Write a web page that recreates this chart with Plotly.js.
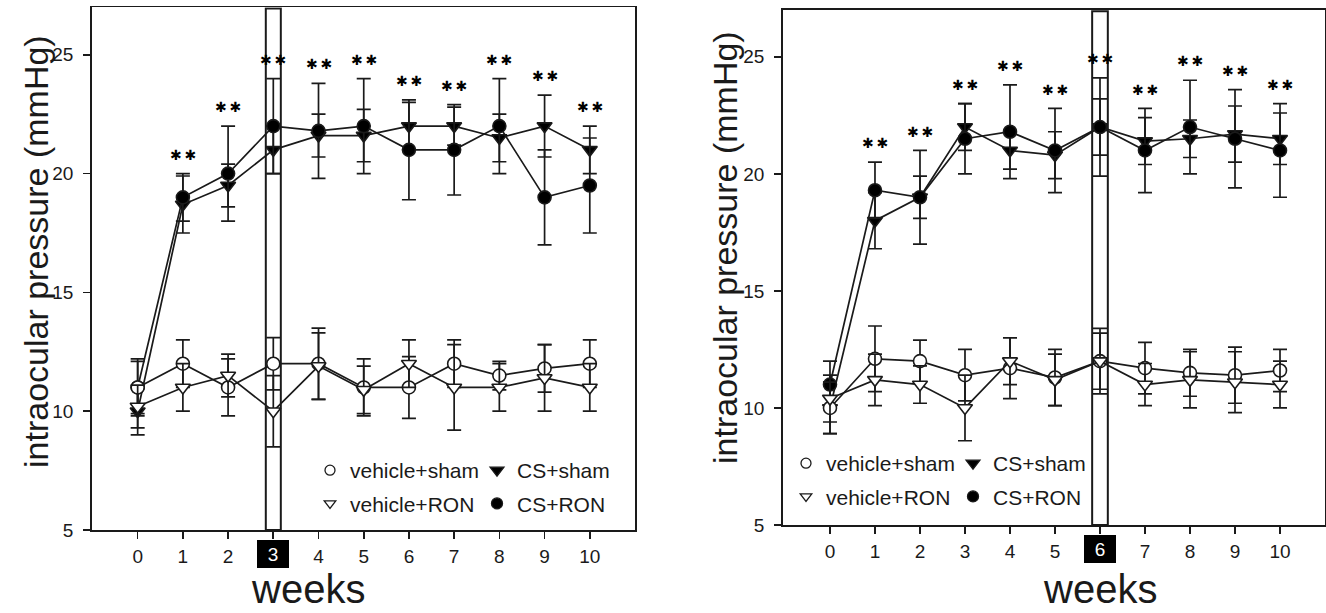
<!DOCTYPE html>
<html><head><meta charset="utf-8">
<script src="https://cdn.plot.ly/plotly-3.0.1.min.js"></script>
<style>html,body{margin:0;padding:0;background:#fff}#chart{width:1326px;height:613px}</style>
</head><body><div id="chart"></div>
<script>
// ---------- data ----------
const weeks = [0, 1, 2, 3, 4, 5, 6, 7, 8, 9, 10];
const weekLabels = ['0', '1', '2', '3', '4', '5', '6', '7', '8', '9', '10'];
const yTickVals = [5, 10, 15, 20, 25];
const sigWeeks = [1, 2, 3, 4, 5, 6, 7, 8, 9, 10];
const seriesNames = ['vehicle+sham', 'CS+sham', 'vehicle+RON', 'CS+RON'];
const highlightWeekA = 3;
const highlightWeekB = 6;
const yTitleText = 'intraocular pressure (mmHg)';
const xTitleText = 'weeks';
const sigText = '✱\u2009✱';

// panel A (left)
const vehShamA    = [11, 12, 11, 12, 12, 11, 11, 12, 11.5, 11.8, 12];
const vehShamErrA = [1.1, 1, 1.2, 1.1, 1.5, 1.2, 1.3, 1, 0.6, 1, 1];
const vehRonA     = [10.2, 11, 11.5, 10, 11.9, 10.9, 12, 11, 11, 11.4, 11];
const vehRonErrA  = [0.9, 1, 0.9, 1.5, 1.4, 1, 1, 1.8, 1, 1.4, 1];
const csShamA     = [10, 18.7, 19.5, 21, 21.6, 21.6, 22, 22, 21.5, 22, 21];
const csShamErrA  = [1, 1.2, 0.9, 1, 0.9, 1.1, 1, 0.8, 1, 1.3, 1];
const csRonA      = [11, 19, 20, 22, 21.8, 22, 21, 21, 22, 19, 19.5];
const csRonErrA   = [1.2, 1, 2, 2, 2, 2, 2.1, 1.9, 2, 2, 2];

// panel B (right)
const vehShamB    = [10, 12.1, 12, 11.4, 11.7, 11.3, 12, 11.7, 11.5, 11.4, 11.6];
const vehShamErrB = [1.1, 1.4, 0.9, 1.1, 1.3, 1.2, 1.4, 1.1, 1, 1.2, 0.9];
const vehRonB     = [10.4, 11.2, 11, 10, 12, 11.2, 12, 11, 11.2, 11.1, 11];
const vehRonErrB  = [1, 1.1, 0.8, 1.4, 1, 1.1, 1.2, 0.9, 1.2, 1.3, 1];
const csShamB     = [10, 18, 19, 22, 21, 20.8, 22, 21.4, 21.5, 21.7, 21.5];
const csShamErrB  = [1.1, 1.2, 0.9, 1, 0.8, 1, 1.2, 1, 0.8, 1.2, 1.1];
const csRonB      = [11, 19.3, 19, 21.5, 21.8, 21, 22, 21, 22, 21.5, 21];
const csRonErrB   = [1, 1.2, 2, 1.5, 2, 1.8, 2.1, 1.8, 2, 2.1, 2];

// ---------- layout geometry (pixels) ----------
const W = 1326, H = 613;
const FONT = 'Arial, "Liberation Sans", Helvetica, sans-serif';
const INK = '#1a1a1a';
const px = v => v / W;
const py = v => (H - v) / H;

const panels = [
  { key: 'A', xa: 'x', ya: 'y', left: 92, right: 635, top: 7.3, bottom: 530, xr: [-1.01, 11.0],
    hl: highlightWeekA, hlHalf: 0.166,
    data: { 'vehicle+sham': [vehShamA, vehShamErrA], 'CS+sham': [csShamA, csShamErrA],
            'vehicle+RON': [vehRonA, vehRonErrA], 'CS+RON': [csRonA, csRonErrA] },
    yTitle: [36, 252], xTitleX: 308,
    legends: [[310, 450], [477, 450]] },
  { key: 'B', xa: 'x2', ya: 'y2', left: 783, right: 1325, top: 10, bottom: 525, xr: [-1.044, 11.0],
    hl: highlightWeekB, hlHalf: 0.174,
    data: { 'vehicle+sham': [vehShamB, vehShamErrB], 'CS+sham': [csShamB, csShamErrB],
            'vehicle+RON': [vehRonB, vehRonErrB], 'CS+RON': [csRonB, csRonErrB] },
    yTitle: [725, 247], xTitleX: 1100,
    legends: [[786, 443], [953, 443]] }
];

const styleOf = {
  'vehicle+sham': { symbol: 'circle', fill: '#ffffff', size: 13, lsize: 10 },
  'CS+sham':      { symbol: 'triangle-down', fill: '#000000', size: 13, lsize: 12 },
  'vehicle+RON':  { symbol: 'triangle-down', fill: '#ffffff', size: 13, lsize: 10 },
  'CS+RON':       { symbol: 'circle', fill: '#000000', size: 13, lsize: 11 }
};
const drawOrder = ['CS+sham', 'CS+RON', 'vehicle+sham', 'vehicle+RON'];
const legendCols = [['vehicle+sham', 'vehicle+RON'], ['CS+sham', 'CS+RON']];

const traces = [];
const layout = {
  width: W, height: H,
  margin: { l: 0, r: 0, t: 0, b: 0 },
  paper_bgcolor: '#fff', plot_bgcolor: '#fff',
  font: { family: FONT, color: INK },
  showlegend: true,
  shapes: [], annotations: []
};

let legendIdx = 1;
panels.forEach(p => {
  const sx = p.xa === 'x' ? '' : '2';
  layout['xaxis' + sx] = {
    domain: [px(p.left), px(p.right)], range: p.xr, anchor: p.ya,
    tickmode: 'array', tickvals: weeks,
    ticktext: weekLabels.map((t, i) => weeks[i] === p.hl ? ' ' : t),
    ticks: 'outside', ticklen: 7, tickwidth: 1.6, tickcolor: INK,
    showline: true, linewidth: 1.8, linecolor: INK, mirror: true,
    showgrid: false, zeroline: false, fixedrange: true,
    tickfont: { family: FONT, size: 19, color: INK }, ticklabelstandoff: 1
  };
  layout['yaxis' + sx] = {
    domain: [py(p.bottom), py(p.top)], range: [5, 27], anchor: p.xa,
    tickmode: 'array', tickvals: yTickVals,
    ticks: 'outside', ticklen: 7, tickwidth: 1.6, tickcolor: INK,
    showline: true, linewidth: 1.8, linecolor: INK, mirror: true,
    showgrid: false, zeroline: false, fixedrange: true,
    tickfont: { family: FONT, size: 19, color: INK }, ticklabelstandoff: 6
  };

  drawOrder.forEach(name => {
    const st = styleOf[name];
    const [vals, errs] = p.data[name];
    traces.push({
      type: 'scatter', mode: 'lines+markers', name: name,
      x: weeks, y: vals, xaxis: p.xa, yaxis: p.ya, showlegend: false,
      line: { color: INK, width: 1.7 },
      marker: { symbol: st.symbol, size: st.size, color: st.fill, line: { color: INK, width: 1.6 } },
      error_y: { type: 'data', array: errs, visible: true, color: INK, thickness: 1.7, width: 7 },
      hoverinfo: 'x+y+name'
    });
  });

  legendCols.forEach((col, ci) => {
    const lid = legendIdx === 1 ? 'legend' : 'legend' + legendIdx;
    col.forEach(name => {
      const st = styleOf[name];
      traces.push({
        type: 'scatter', mode: 'markers', name: name, x: [null], y: [null],
        xaxis: p.xa, yaxis: p.ya, legend: lid, legendgroup: p.key + name, showlegend: true,
        marker: { symbol: st.symbol, size: st.lsize, color: st.fill, line: { color: INK, width: 1.3 } },
        hoverinfo: 'skip'
      });
    });
    layout[lid] = {
      x: px(p.legends[ci][0]), y: py(p.legends[ci][1]), xanchor: 'left', yanchor: 'top',
      bgcolor: 'rgba(0,0,0,0)', borderwidth: 0, orientation: 'v',
      itemwidth: 30, tracegroupgap: 3, itemclick: false, itemdoubleclick: false,
      font: { family: FONT, size: 21, color: INK }
    };
    legendIdx++;
  });

  layout.shapes.push({
    type: 'rect', xref: p.xa, yref: p.ya,
    x0: p.hl - p.hlHalf, x1: p.hl + p.hlHalf, y0: 5, y1: 26.95,
    line: { color: INK, width: 2 }, fillcolor: 'rgba(0,0,0,0)', layer: 'above'
  });
  layout.annotations.push({
    xref: p.xa, yref: 'paper', x: p.hl, y: py(p.bottom + 24),
    text: weekLabels[weeks.indexOf(p.hl)], showarrow: false,
    bgcolor: '#000', bordercolor: '#000', width: 30, height: 26, borderpad: 0,
    font: { family: FONT, size: 19, color: '#fff' }, xanchor: 'center', yanchor: 'middle'
  });

  sigWeeks.forEach(w => {
    const i = weeks.indexOf(w);
    const top = Math.max(...seriesNames.map(n => p.data[n][0][i] + p.data[n][1][i]));
    layout.annotations.push({
      xref: p.xa, yref: p.ya, x: w, y: top + 0.8, text: sigText, showarrow: false,
      font: { family: '"DejaVu Sans", sans-serif', size: 14, color: '#000' },
      xanchor: 'center', yanchor: 'middle'
    });
  });

  layout.annotations.push({
    xref: 'paper', yref: 'paper', x: px(p.yTitle[0]), y: py(p.yTitle[1]),
    text: yTitleText, textangle: -90, showarrow: false,
    font: { family: FONT, size: 34, color: INK }, xanchor: 'center', yanchor: 'middle'
  });
  layout.annotations.push({
    xref: 'paper', yref: 'paper', x: px(p.xTitleX), y: 0,
    text: xTitleText, showarrow: false,
    font: { family: FONT, size: 40, color: INK }, xanchor: 'center', yanchor: 'bottom'
  });
});

Plotly.newPlot('chart', traces, layout, { displayModeBar: false, staticPlot: true });
</script>
</body></html>
